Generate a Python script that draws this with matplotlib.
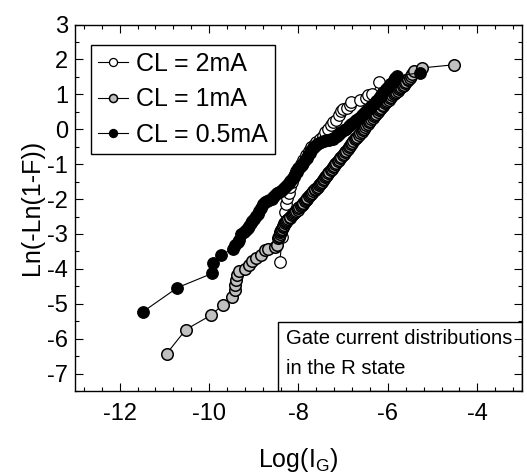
import numpy as np
import matplotlib
matplotlib.use("Agg")
import matplotlib.pyplot as plt
import matplotlib.patches as patches
from matplotlib.ticker import MultipleLocator

plt.rcParams['font.family'] = ['Liberation Sans', 'DejaVu Sans']
plt.rcParams['mathtext.fontset'] = 'custom'
plt.rcParams['mathtext.rm'] = 'Liberation Sans'
plt.rcParams['mathtext.it'] = 'Liberation Sans'
plt.rcParams['axes.unicode_minus'] = False

# Weibull plot data: (Log(IG), Ln(-Ln(1-F)))
cl_2ma = np.array([
    (-8.42, -3.80), (-8.36, -3.10), (-8.33, -2.70), (-8.30, -2.37), (-8.28, -2.15),
    (-8.26, -1.97), (-8.22, -1.82), (-8.18, -1.66), (-8.14, -1.50), (-8.10, -1.35),
    (-8.05, -1.20), (-8.00, -1.10), (-7.95, -1.00), (-7.90, -0.88), (-7.83, -0.75),
    (-7.76, -0.62), (-7.71, -0.52), (-7.66, -0.44), (-7.60, -0.36), (-7.53, -0.27),
    (-7.46, -0.18), (-7.40, -0.08), (-7.34, 0.02), (-7.28, 0.12), (-7.22, 0.20),
    (-7.17, 0.28), (-7.10, 0.42), (-7.06, 0.52), (-7.00, 0.58), (-6.92, 0.62),
    (-6.85, 0.70), (-6.82, 0.78), (-6.62, 0.84), (-6.48, 0.90), (-6.44, 0.97),
    (-6.36, 1.02), (-6.19, 1.36),
])

cl_1ma = np.array([
    (-10.95, -6.43), (-10.52, -5.74), (-9.96, -5.33), (-9.70, -5.04), (-9.48, -4.82),
    (-9.43, -4.61), (-9.41, -4.47), (-9.40, -4.33), (-9.37, -4.18), (-9.32, -4.06),
    (-9.20, -4.00), (-9.10, -3.90), (-9.03, -3.77), (-8.95, -3.70), (-8.84, -3.61),
    (-8.75, -3.47), (-8.68, -3.42), (-8.53, -3.37), (-8.48, -3.32),
    (-8.45, -3.13), (-8.44, -3.08), (-8.43, -3.05), (-8.42, -2.99), (-8.41, -2.95),
    (-8.40, -2.92), (-8.385, -2.88), (-8.37, -2.85), (-8.35, -2.81), (-8.34, -2.78),
    (-8.32, -2.74), (-8.30, -2.70), (-8.28, -2.66), (-8.27, -2.63), (-8.25, -2.60),
    (-8.23, -2.56), (-8.20, -2.53), (-8.18, -2.50), (-8.15, -2.46), (-8.13, -2.43),
    (-8.10, -2.40), (-8.08, -2.37), (-8.05, -2.33), (-8.02, -2.30), (-8.00, -2.27),
    (-7.98, -2.24), (-7.95, -2.21), (-7.93, -2.18), (-7.91, -2.14), (-7.89, -2.10),
    (-7.86, -2.06), (-7.84, -2.03), (-7.82, -1.99), (-7.80, -1.96), (-7.77, -1.92),
    (-7.75, -1.89), (-7.72, -1.85), (-7.70, -1.82), (-7.67, -1.78), (-7.64, -1.75),
    (-7.62, -1.71), (-7.59, -1.68), (-7.56, -1.64), (-7.54, -1.61), (-7.52, -1.57),
    (-7.50, -1.54), (-7.47, -1.50), (-7.45, -1.46), (-7.42, -1.42), (-7.40, -1.38),
    (-7.38, -1.34), (-7.36, -1.31), (-7.33, -1.26), (-7.31, -1.22), (-7.28, -1.17),
    (-7.26, -1.13), (-7.23, -1.09), (-7.21, -1.05), (-7.18, -1.00), (-7.15, -0.96),
    (-7.12, -0.92), (-7.10, -0.88), (-7.07, -0.83), (-7.04, -0.79), (-7.01, -0.74),
    (-6.99, -0.70), (-6.96, -0.66), (-6.93, -0.62), (-6.90, -0.57), (-6.88, -0.52),
    (-6.85, -0.47), (-6.82, -0.43), (-6.80, -0.38), (-6.77, -0.34), (-6.74, -0.29),
    (-6.71, -0.25), (-6.68, -0.21), (-6.65, -0.17), (-6.62, -0.12), (-6.59, -0.08),
    (-6.56, -0.03), (-6.54, 0.02), (-6.51, 0.07), (-6.48, 0.12), (-6.45, 0.16),
    (-6.43, 0.20), (-6.40, 0.25), (-6.37, 0.29), (-6.34, 0.33), (-6.31, 0.37),
    (-6.28, 0.41), (-6.26, 0.45), (-6.23, 0.50), (-6.20, 0.54), (-6.17, 0.58),
    (-6.15, 0.62), (-6.12, 0.66), (-6.10, 0.70), (-6.07, 0.74), (-6.04, 0.78),
    (-6.01, 0.82), (-5.98, 0.85), (-5.95, 0.89), (-5.93, 0.93), (-5.90, 0.97),
    (-5.87, 1.00), (-5.84, 1.04), (-5.81, 1.07), (-5.78, 1.11), (-5.76, 1.14),
    (-5.73, 1.18), (-5.70, 1.21), (-5.67, 1.25), (-5.65, 1.28), (-5.62, 1.32),
    (-5.59, 1.36), (-5.56, 1.40), (-5.54, 1.44), (-5.51, 1.48), (-5.48, 1.52),
    (-5.45, 1.59), (-5.41, 1.66), (-5.23, 1.76), (-4.51, 1.85),
])

cl_05ma = np.array([
    (-11.48, -5.23), (-10.71, -4.54), (-9.93, -4.13), (-9.91, -3.84), (-9.74, -3.61),
    (-9.46, -3.42), (-9.42, -3.32), (-9.36, -3.22), (-9.32, -3.16), (-9.28, -3.01),
    (-9.22, -2.95), (-9.17, -2.89), (-9.13, -2.84), (-9.10, -2.78), (-9.06, -2.70),
    (-9.03, -2.63), (-8.99, -2.56), (-8.95, -2.49), (-8.91, -2.42), (-8.88, -2.34),
    (-8.84, -2.25), (-8.80, -2.15), (-8.76, -2.08), (-8.70, -2.06), (-8.65, -2.03),
    (-8.60, -1.99), (-8.56, -1.94), (-8.52, -1.89), (-8.49, -1.84), (-8.44, -1.80),
    (-8.39, -1.77), (-8.34, -1.71), (-8.30, -1.65), (-8.26, -1.60), (-8.22, -1.54),
    (-8.18, -1.48), (-8.15, -1.42), (-8.11, -1.36), (-8.07, -1.29), (-8.03, -1.22),
    (-8.00, -1.15), (-7.96, -1.09), (-7.93, -1.03), (-7.89, -0.96), (-7.86, -0.89),
    (-7.82, -0.82), (-7.78, -0.74), (-7.74, -0.67), (-7.71, -0.60), (-7.67, -0.54),
    (-7.64, -0.48), (-7.59, -0.43), (-7.54, -0.39), (-7.49, -0.36), (-7.43, -0.33),
    (-7.38, -0.32), (-7.32, -0.31), (-7.27, -0.29), (-7.23, -0.27), (-7.18, -0.22),
    (-7.14, -0.18), (-7.09, -0.13), (-7.04, -0.08), (-6.98, -0.03), (-6.93, 0.02),
    (-6.88, 0.08), (-6.82, 0.14), (-6.76, 0.20), (-6.71, 0.26), (-6.65, 0.33),
    (-6.59, 0.40), (-6.54, 0.46), (-6.48, 0.53), (-6.42, 0.59), (-6.37, 0.66),
    (-6.31, 0.73), (-6.26, 0.81), (-6.20, 0.89), (-6.15, 0.98), (-6.10, 1.06),
    (-6.04, 1.14), (-6.00, 1.21), (-5.95, 1.29), (-5.91, 1.34), (-5.87, 1.40),
    (-5.83, 1.46), (-5.80, 1.52), (-5.29, 1.62),
])

series = [
    (cl_2ma, "white", 0.9, "CL = 2mA"),
    (cl_1ma, "#c0c0c0", 1.1, "CL = 1mA"),
    (cl_05ma, "black", 0.9, "CL = 0.5mA"),
]

fig = plt.figure(figsize=(5.27, 4.73), dpi=100)
ax = fig.add_axes([0.1423, 0.1734, 0.8482, 0.7746])

for data, face, mew, label in series:
    ax.plot(data[:, 0], data[:, 1], '-o', color='black', lw=0.8,
            marker='o', markersize=8.3, markerfacecolor=face,
            markeredgecolor='black', markeredgewidth=mew, label=label)

ax.set_xlim(-13, -3)
ax.set_ylim(-7.5, 3)
ax.xaxis.set_major_locator(MultipleLocator(2))
ax.xaxis.set_minor_locator(MultipleLocator(0.4))
ax.yaxis.set_major_locator(MultipleLocator(1))
ax.yaxis.set_minor_locator(MultipleLocator(0.5))
ax.tick_params(which='both', direction='in', top=True, right=True, labelsize=17)
ax.tick_params(which='major', length=6, width=0.8)
ax.tick_params(which='minor', length=3, width=0.8)
ax.tick_params(axis='x', pad=9)
ax.tick_params(axis='y', pad=5)
for sp in ax.spines.values():
    sp.set_linewidth(1.0)

ax.set_xlabel("Log(I$_{\\rm G}$)", fontsize=18, labelpad=15)
ax.set_ylabel("Ln(-Ln(1-F))", fontsize=18, labelpad=2)

leg = ax.legend(loc='upper left', bbox_to_anchor=(0.035, 0.945), fontsize=18,
                frameon=True, fancybox=False, edgecolor='black', framealpha=1,
                markerscale=0.7, handlelength=1.2, handletextpad=0.3,
                borderpad=0.3, labelspacing=0.45, borderaxespad=0)
leg.get_frame().set_linewidth(1.0)

# annotation box in the lower right corner
ax.add_patch(patches.Rectangle((-8.45, -7.5), 5.45, 1.98, fill=False,
                               edgecolor='black', linewidth=1.0, zorder=5))
ax.text(-8.29, -6.01, "Gate current distributions", fontsize=14.6, va='center', ha='left')
ax.text(-8.29, -6.85, "in the R state", fontsize=14.6, va='center', ha='left')

plt.savefig("out.png", dpi=100)
